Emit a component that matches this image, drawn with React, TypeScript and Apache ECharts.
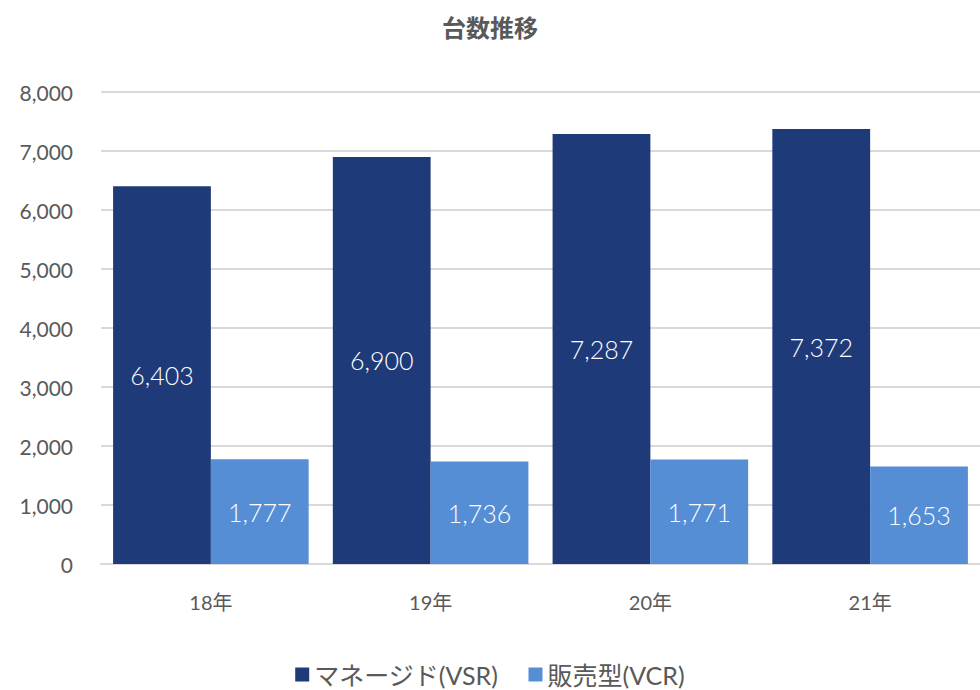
import React, { useEffect, useRef } from "react";
import * as echarts from "echarts";

const categories = ["18年", "19年", "20年", "21年"];
const seriesNames = ["マネージド(VSR)", "販売型(VCR)"];
const managedValues = [6403, 6900, 7287, 7372];
const salesValues = [1777, 1736, 1771, 1653];
const yTicks = { min: 0, max: 8000, interval: 1000 };

const FONT = "'Lato', 'Noto Sans CJK JP', sans-serif";
const GRAY = "#595959";

export default function App() {
  const ref = useRef<HTMLDivElement>(null);
  useEffect(() => {
    if (!ref.current) return;
    const chart = echarts.init(ref.current, null, { renderer: "svg" });
    const labelStyle = {
      show: true,
      position: "inside",
      color: "#ffffff",
      fontSize: 25,
      fontWeight: 300,
      fontFamily: FONT,
      formatter: (p: any) => Number(p.value).toLocaleString("en-US"),
    };
    chart.setOption({
      animation: false,
      backgroundColor: "#ffffff",
      title: {
        text: "台数推移",
        left: "center",
        top: 10,
        textStyle: { color: GRAY, fontSize: 24, fontWeight: "bold", fontFamily: FONT },
      },
      legend: {
        top: 662,
        left: "center",
        padding: 0,
        icon: "rect",
        itemWidth: 14,
        itemHeight: 14,
        itemGap: 30,
        textStyle: { color: GRAY, fontSize: 25, fontFamily: FONT },
        data: seriesNames,
      },
      grid: { left: 101, right: 0, top: 92, bottom: 126, containLabel: false },
      xAxis: {
        type: "category",
        data: categories,
        axisLine: { lineStyle: { color: "#d9d9d9", width: 2 } },
        axisTick: { show: false },
        axisLabel: { color: GRAY, fontSize: 20, fontFamily: FONT, margin: 28 },
      },
      yAxis: {
        type: "value",
        min: yTicks.min,
        max: yTicks.max,
        interval: yTicks.interval,
        axisLine: { show: false },
        axisTick: { show: false },
        splitLine: { lineStyle: { color: "#d9d9d9", width: 2 } },
        axisLabel: {
          color: GRAY,
          fontSize: 21,
          fontFamily: FONT,
          margin: 28,
          formatter: (v: number) => v.toLocaleString("en-US"),
        },
      },
      series: [
        {
          name: seriesNames[0],
          type: "bar",
          data: managedValues,
          itemStyle: { color: "#1F3A78" },
          barGap: "0%",
          barCategoryGap: "11%",
          label: labelStyle,
        },
        {
          name: seriesNames[1],
          type: "bar",
          data: salesValues,
          itemStyle: { color: "#558ED5" },
          barGap: "0%",
          barCategoryGap: "11%",
          label: labelStyle,
        },
      ],
    });
    return () => chart.dispose();
  }, []);
  return (
    <div
      ref={ref}
      style={{ position: "absolute", left: 0, top: 0, width: 980, height: 690, overflow: "hidden" }}
    />
  );
}
